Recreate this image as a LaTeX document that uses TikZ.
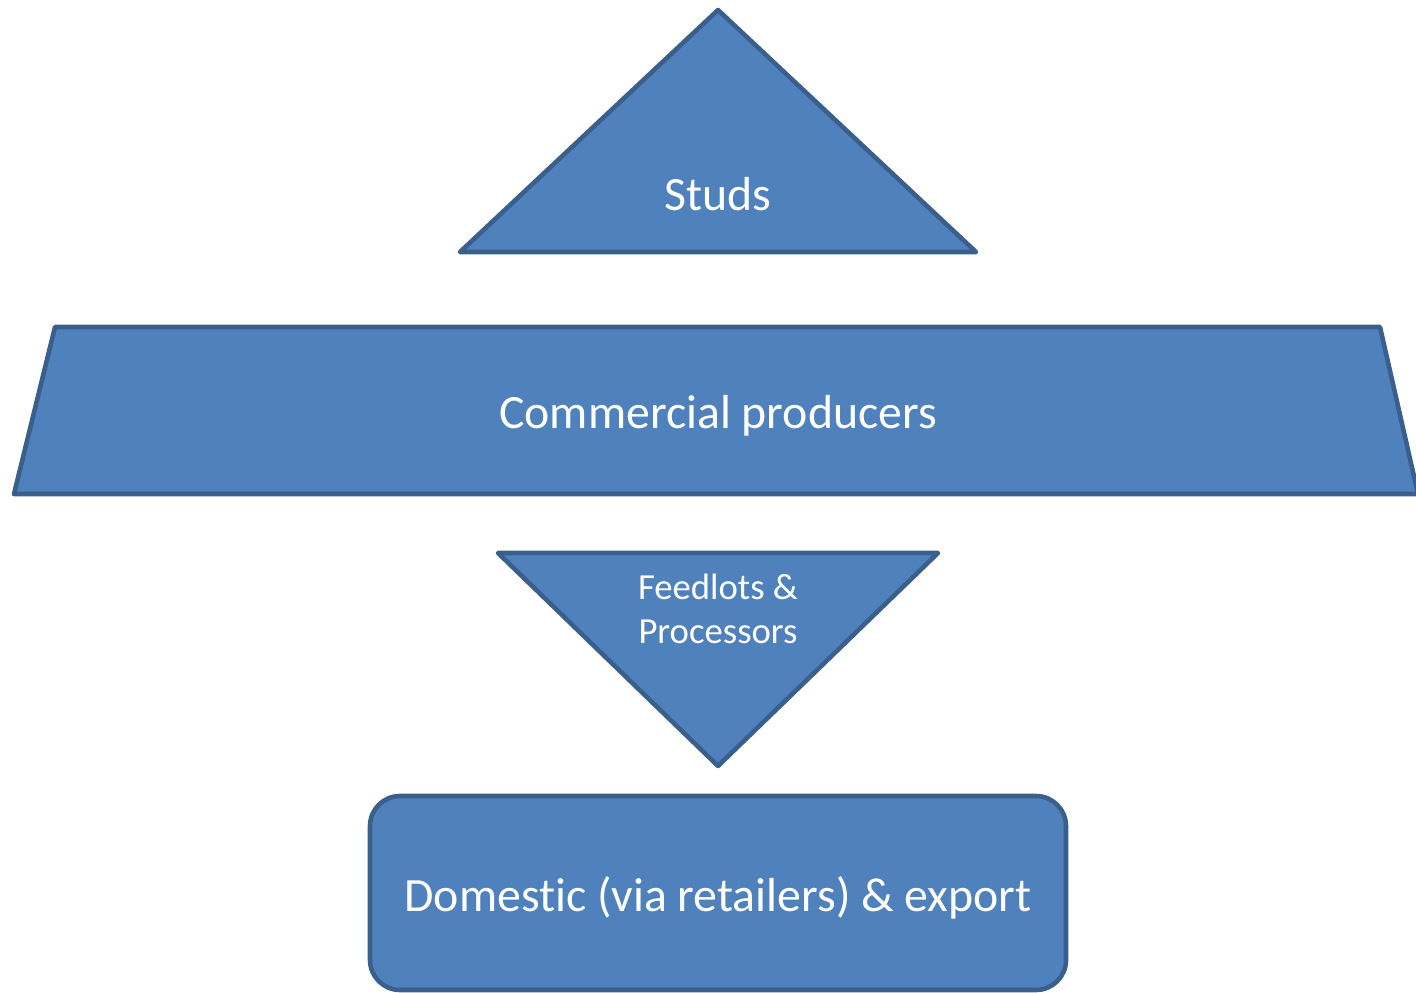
\documentclass[tikz,border=0pt]{standalone}
\usepackage{fontspec}
\setmainfont[Ligatures=NoCommon]{Carlito}
\usetikzlibrary{positioning}

\definecolor{shapefill}{HTML}{4F81BD}
\definecolor{shapeline}{HTML}{3A5F8B}

\begin{document}
\begin{tikzpicture}[x=0.1mm, y=-0.1mm]

    \tikzset
    {
        block/.style={fill=shapefill, draw=shapeline, line width=1.3pt, line join=round},
        label/.style={text=white, align=center, font={\fontsize{13.6}{16.5}\selectfont}},
        smalllabel/.style={text=white, align=center, font={\fontsize{10.45}{12.5}\selectfont}}
    }

    \useasboundingbox (0,0) rectangle (1416,993);

    % studs on top
    \draw[block] (718,10) -- (976,252) -- (460,252) -- cycle;
    \node[label] (studs) at (718,194) {Studs};

    % commercial producers
    \draw[block] (55,327) -- (1380,327) -- (1418,494) -- (14,494) -- cycle;
    \node[label] (commercial) at (718,416) {Commercial producers};

    % feedlots and processors
    \draw[block] (498,553) -- (938,553) -- (718,766) -- cycle;
    \node[smalllabel] (feedlots) at (718,609) {Feedlots \&\\Processors};

    % end market
    \draw[block, rounded corners=3mm] (370,796) rectangle (1066,990);
    \node[label] (market) at (718,898) {Domestic (via retailers) \& export};

\end{tikzpicture}
\end{document}
